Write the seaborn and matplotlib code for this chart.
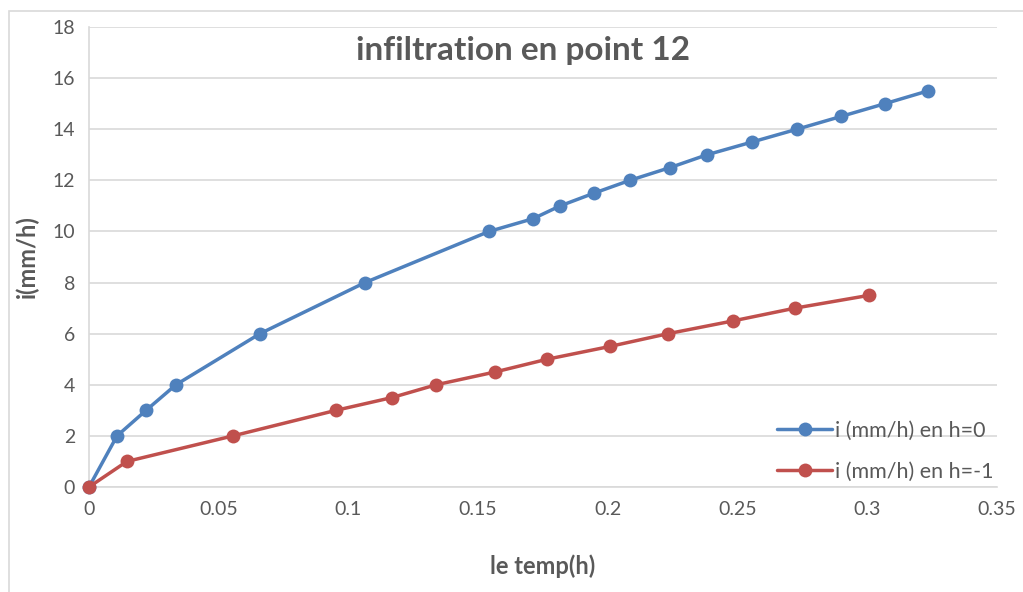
import matplotlib
matplotlib.use("Agg")
import matplotlib.pyplot as plt
from matplotlib.patches import Rectangle
import pandas as pd
import seaborn as sns

# temps (h) et infiltration (mm/h)
t_h0 = [0, 0.0108, 0.022, 0.0335, 0.0659, 0.1064, 0.1542, 0.1712, 0.1816, 0.1947,
        0.2085, 0.224, 0.2382, 0.2556, 0.2729, 0.2899, 0.3068, 0.3234]
i_h0 = [0, 2, 3, 4, 6, 8, 10, 10.5, 11, 11.5, 12, 12.5, 13, 13.5, 14, 14.5, 15, 15.5]
t_h1 = [0, 0.0146, 0.0555, 0.0952, 0.1168, 0.1338, 0.1565, 0.1766, 0.2008,
        0.2232, 0.2483, 0.2722, 0.3007]
i_h1 = [0, 1, 2, 3, 3.5, 4, 4.5, 5, 5.5, 6, 6.5, 7, 7.5]
series = ["i (mm/h) en h=0", "i (mm/h) en h=-1"]
colors = ["#4F81BD", "#C0504D"]

df = pd.concat([
    pd.DataFrame({"t": t_h0, "i": i_h0, "serie": series[0]}),
    pd.DataFrame({"t": t_h1, "i": i_h1, "serie": series[1]}),
])

sns.set_style("white")
plt.rcParams["font.family"] = ["Lato", "DejaVu Sans"]
grey = "#595959"

fig = plt.figure(figsize=(10.23, 5.92), dpi=100)
fig.patches.append(Rectangle((9/1023, -0.1), 1.2, 1 - 11/592 + 0.1, transform=fig.transFigure,
                             fill=False, edgecolor="#D9D9D9", linewidth=1.2))
ax = fig.add_axes([89/1023, 1 - 487/592, 908/1023, 460/592])

sns.lineplot(data=df, x="t", y="i", hue="serie", palette=colors, sort=False,
             marker="o", markersize=10, markeredgewidth=0, linewidth=2.5, ax=ax,
             legend=False, zorder=3)

ax.set_xlim(0, 0.35)
ax.set_ylim(0, 18)
ax.set_xticks([0, 0.05, 0.1, 0.15, 0.2, 0.25, 0.3, 0.35])
ax.set_xticklabels(["0", "0.05", "0.1", "0.15", "0.2", "0.25", "0.3", "0.35"])
ax.set_yticks(range(0, 19, 2))
ax.grid(axis="y", color="#D9D9D9", linewidth=1.2)
ax.grid(axis="x", visible=False)
for s in ["top", "right"]:
    ax.spines[s].set_visible(False)
for s in ["left", "bottom"]:
    ax.spines[s].set_color("#D9D9D9")
    ax.spines[s].set_linewidth(1.2)
ax.tick_params(axis="both", length=0, labelsize=14, labelcolor=grey, pad=10)
for ln in ax.lines:
    ln.set_clip_on(False)

ax.set_xlabel("le temp(h)", fontsize=17, fontweight="bold", color=grey, labelpad=26)
ax.set_ylabel("i(mm/h)", fontsize=17, fontweight="bold", color=grey, labelpad=10)
ax.set_title("infiltration en point 12", fontsize=24, fontweight="bold", color=grey,
             x=0.4785, y=0.91)

handles = [plt.Line2D([], [], color=c, marker="o", markersize=10, markeredgewidth=0,
                      linewidth=2.5) for c in colors]
ax.legend(handles, series, loc="lower left", bbox_to_anchor=(0.758, 0.012), frameon=False,
          fontsize=15.5, labelcolor=grey, handlelength=2.55, handletextpad=0.15,
          labelspacing=0.95, borderpad=0, borderaxespad=0)

fig.savefig("out.png", dpi=100)
